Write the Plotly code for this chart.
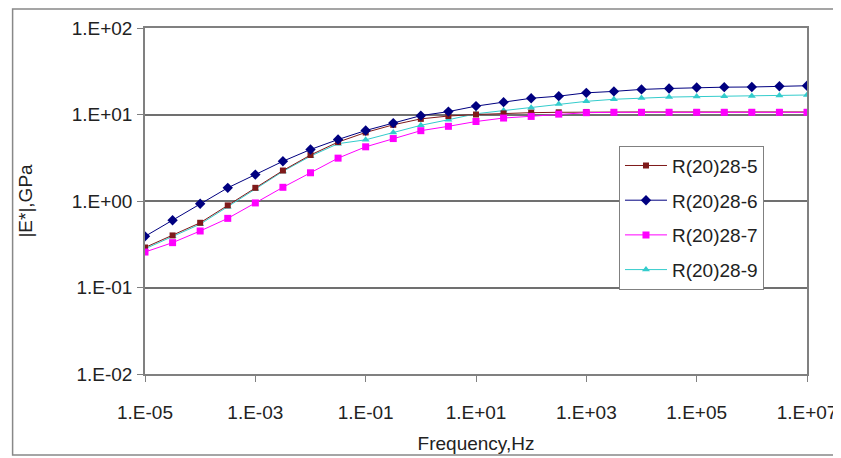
import plotly.graph_objects as go

# Frequencies (Hz), half-decade steps from 1E-05 to 1E+07
freq = [1e-5, 3.162e-5, 1e-4, 3.162e-4, 1e-3, 3.162e-3, 1e-2, 3.162e-2, 1e-1, 3.162e-1,
        1e0, 3.162e0, 1e1, 3.162e1, 1e2, 3.162e2, 1e3, 3.162e3, 1e4, 3.162e4,
        1e5, 3.162e5, 1e6, 3.162e6, 1e7]

r5 = [0.29, 0.40, 0.56, 0.89, 1.42, 2.25, 3.40, 4.80, 6.20, 7.60,
      8.90, 9.60, 10.0, 10.3, 10.5, 10.6, 10.7, 10.7, 10.7, 10.7,
      10.7, 10.7, 10.7, 10.7, 10.7]
r6 = [0.39, 0.60, 0.93, 1.42, 2.02, 2.88, 3.94, 5.14, 6.53, 7.95,
      9.70, 10.8, 12.5, 13.9, 15.4, 16.3, 17.8, 18.5, 19.5, 20.0,
      20.5, 20.7, 20.8, 21.2, 21.5]
r7 = [0.257, 0.33, 0.45, 0.63, 0.95, 1.44, 2.12, 3.13, 4.23, 5.27,
      6.50, 7.30, 8.30, 9.10, 9.50, 10.1, 10.5, 10.6, 10.6, 10.6,
      10.6, 10.6, 10.6, 10.6, 10.6]
r9 = [0.28, 0.39, 0.54, 0.86, 1.38, 2.20, 3.30, 4.60, 5.10, 6.20,
      7.50, 8.70, 10.2, 11.1, 12.0, 13.2, 14.2, 15.0, 15.5, 15.9,
      16.1, 16.3, 16.4, 16.6, 16.8]

x_ticks = [1e-5, 1e-3, 1e-1, 1e1, 1e3, 1e5, 1e7]
x_tick_text = ["1.E-05", "1.E-03", "1.E-01", "1.E+01", "1.E+03", "1.E+05", "1.E+07"]
y_ticks = [1e-2, 1e-1, 1e0, 1e1, 1e2]
y_tick_text = ["1.E-02", "1.E-01", "1.E+00", "1.E+01", "1.E+02"]

FONT = "Liberation Sans, Arial, sans-serif"
FS = 19
TXT = "#222222"

series = [
    ("R(20)28-9", r9, "#33CCCC", "triangle-up", 7, 4),
    ("R(20)28-5", r5, "#7F1A1A", "square", 6, 1),
    ("R(20)28-7", r7, "#FF00FF", "square", 7, 3),
    ("R(20)28-6", r6, "#000080", "diamond", 8, 2),
]

fig = go.Figure()
for name, vals, color, sym, size, rank in series:
    fig.add_trace(go.Scatter(
        x=freq, y=vals, name=name, mode="lines+markers",
        line=dict(color=color, width=1),
        marker=dict(color=color, symbol=sym, size=size),
        legendrank=rank, legendgroup=name,
    ))

fig.update_layout(
    width=833, height=450,
    margin=dict(l=137, r=34, t=20, b=84),
    paper_bgcolor="white", plot_bgcolor="white",
    font=dict(family=FONT, size=FS, color=TXT),
    showlegend=True,
    legend=dict(
        x=0.716, y=0.66, xanchor="left", yanchor="top",
        bgcolor="white", bordercolor="#808080", borderwidth=1,
        font=dict(family=FONT, size=FS, color=TXT),
        tracegroupgap=7, traceorder="grouped", itemwidth=42,
    ),
    xaxis=dict(
        type="log", range=[-5, 7], automargin=False,
        tickvals=x_ticks, ticktext=x_tick_text,
        ticks="outside", ticklen=6, tickcolor="#808080",
        showgrid=False, showline=True, linecolor="#808080", linewidth=1.5,
        mirror=True, zeroline=False, ticklabelstandoff=14,
        title=dict(text="Frequency,Hz", standoff=15,
                   font=dict(family=FONT, size=FS, color=TXT)),
    ),
    yaxis=dict(
        type="log", range=[-2, 2], automargin=False,
        tickvals=y_ticks, ticktext=y_tick_text,
        ticks="outside", ticklen=6, tickcolor="#808080",
        showgrid=True, gridcolor="#707070", gridwidth=1.5,
        showline=True, linecolor="#808080", linewidth=1.5,
        mirror=True, zeroline=False, ticklabelstandoff=1,
        title=dict(text="|E*|,GPa", standoff=34,
                   font=dict(family=FONT, size=FS, color=TXT)),
    ),
)

# outer chart frame
fig.add_shape(type="rect", xref="paper", yref="paper",
              x0=-0.2, x1=1.045, y0=-0.234, y1=1.055,
              line=dict(color="#888888", width=1.5), layer="below")

fig.write_html("out.html")
